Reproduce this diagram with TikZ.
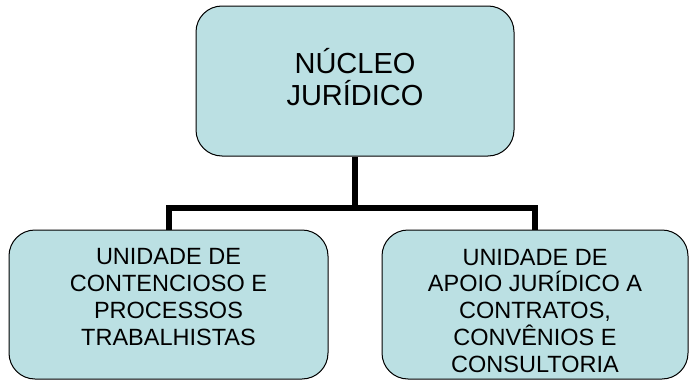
\documentclass[tikz,border=0pt]{standalone}
\usepackage{fontspec}
\setmainfont{Liberation Sans}
\definecolor{caixa}{RGB}{187,224,227}
\tikzset{
  unidade/.style={draw=black, line width=1pt, fill=caixa, rounded corners=26pt,
    align=center, inner sep=0pt},
  ligacao/.style={draw=black, line width=6pt}
}
\begin{document}
\begin{tikzpicture}[x=1pt, y=-1pt]
      \useasboundingbox (0,0) rectangle (689,380);
      \draw
        (355,81) node[unidade, minimum width=318pt, minimum height=150pt,
          text height=60pt, text depth=12pt,
          font=\fontsize{29}{32}\selectfont] (nucleo){NÚCLEO\\JURÍDICO}
        (168.5,304.5) node[unidade, minimum width=319pt, minimum height=149pt,
          text height=100pt, text depth=19pt,
          font=\fontsize{23.5}{26.7}\selectfont] (contencioso){UNIDADE DE\\CONTENCIOSO E\\PROCESSOS\\TRABALHISTAS}
        (535,304.5) node[unidade, minimum width=306pt, minimum height=149pt,
          text height=140pt, text depth=5pt,
          font=\fontsize{23.5}{26.7}\selectfont] (apoio){UNIDADE DE\\APOIO JURÍDICO A\\CONTRATOS,\\CONVÊNIOS E\\CONSULTORIA};
      \begin{scope}[ligacao]
        \draw (nucleo.south) -- ++(0,51) coordinate (juncao);
        \draw (juncao) -| (contencioso.north);
        \draw (juncao) -| (apoio.north);
      \end{scope}
    \end{tikzpicture}
\end{document}
